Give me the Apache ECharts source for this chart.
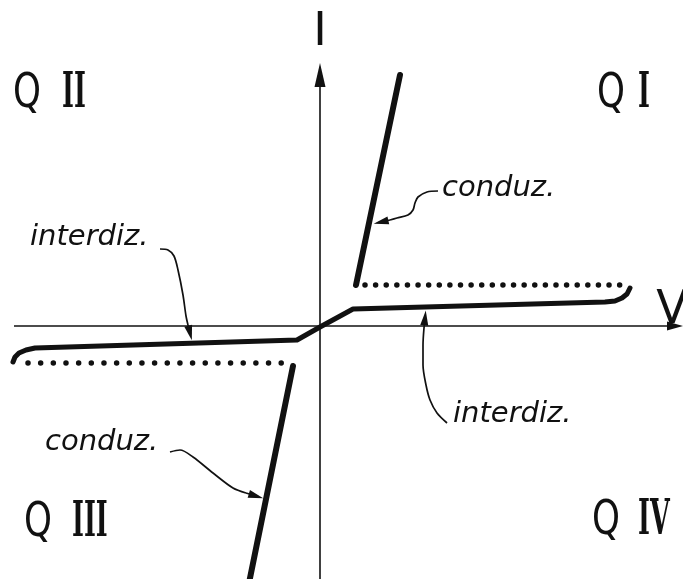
<!DOCTYPE html>
<html><head><meta charset="utf-8">
<script src="https://cdn.jsdelivr.net/npm/echarts@6/dist/echarts.min.js"></script>
<style>html,body{margin:0;padding:0;background:#fff}#c{width:683px;height:579px}</style>
</head><body><div id="c"></div>
<script>
// All values in diagram units: V to the right, I upward, origin at the axes crossing.
const vAxisLine = [[-306, 0], [355, 0]];
const iAxisLine = [[0, -253], [0, 251]];

// V-I characteristic (thick curve through the origin, with the curled ends)
const mainCurve = [[-307,-36],[-305,-31],[-301,-27],[-294,-24],[-285,-22],[-23,-14],[0,-1],[33,17],[285,24],[295,25],[302,28],[307,32],[310,38]];
const conductionQ1 = [[36, 41], [80, 251]];
const conductionQ3 = [[-27, -40], [-72, -262]];
const dottedQ1 = [[45, 41], [300, 41]];
const dottedQ3 = [[-292, -37], [-38, -37]];

// leader lines (curve + arrow head centre)
const leaderInterdizQ2 = [[-160,77],[-152,76],[-146,70],[-142,56],[-137,31],[-134,10],[-132,1]];
const tipInterdizQ2 = [-130, -7];
const leaderConduzQ1 = [[118,135],[107,134],[98,129],[95,123],[93,116],[88,111],[77,108],[70,106]];
const tipConduzQ1 = [61, 104];
const leaderInterdizQ4 = [[127,-97],[117,-87],[110,-74],[106,-59],[103,-39],[103,-19],[104,-2]];
const tipInterdizQ4 = [105, 8];
const leaderConduzQ3 = [[-150,-126],[-140,-124],[-127,-131],[-107,-147],[-87,-162],[-74,-167]];
const tipConduzQ3 = [-64, -170];

// texts
const axisLabelText = ['I', 'V'];
const axisLabelPos = [[0, 293], [352, 15]];
const quadLetterText = ['Q', 'Q', 'Q', 'Q'];
const quadLetterPos = [[-307, 231], [277, 231], [-296, -198], [272, -196]];
const quadNumText = ['II', 'I', 'III', 'IV'];
const quadNumPos = [[-258, 231], [318, 231], [-248, -198], [318, -196]];
const noteText = ['interdiz.', 'conduz.', 'interdiz.', 'conduz.'];
const notePos = [[-290, 89], [122, 138], [133, -88], [-275, -116]];

const INK = '#111';

function thick(data, w) {
  return { type: 'line', data, symbol: 'none', silent: true, animation: false,
    lineStyle: { width: w, color: INK, cap: 'round', join: 'round' } };
}
function dotted(data, gap) {
  return { type: 'line', data, symbol: 'none', silent: true, animation: false,
    lineStyle: { width: 5.5, color: INK, cap: 'round', type: [0.01, gap] } };
}
function leader(data, tip) {
  return { type: 'line', data, symbol: 'none', silent: true, animation: false, smooth: 0.3,
    lineStyle: { width: 1.7, color: INK },
    markLine: { silent: true, animation: false, symbol: ['none', 'triangle'], symbolSize: [8, 15],
      label: { show: false }, lineStyle: { type: 'solid', width: 1.7, color: INK },
      data: [[{ coord: data[data.length - 1] }, { coord: tip }]] } };
}
function axisSeries(data, size) {
  return { type: 'line', data: [], symbol: 'none', silent: true, animation: false,
    markLine: { silent: true, animation: false, symbol: ['none', 'triangle'], symbolSize: size,
      label: { show: false }, lineStyle: { type: 'solid', width: 1.6, color: INK },
      data: [[{ coord: data[0] }, { coord: data[1] }]] } };
}
function textSeries(pos, texts, font, scaleX) {
  return { type: 'custom', silent: true, animation: false,
    data: pos,
    renderItem: function (params, api) {
      const p = api.coord([api.value(0), api.value(1)]);
      return { type: 'text', x: p[0], y: p[1], scaleX: scaleX,
        style: { text: texts[params.dataIndex], font: font, fill: INK, align: 'left', verticalAlign: 'middle' } };
    } };
}
function centeredText(pos, texts, font) {
  return { type: 'custom', silent: true, animation: false,
    data: pos,
    renderItem: function (params, api) {
      const p = api.coord([api.value(0), api.value(1)]);
      return { type: 'text', x: p[0], y: p[1],
        style: { text: texts[params.dataIndex], font: font, fill: INK, align: 'center', verticalAlign: 'middle' } };
    } };
}

const chart = echarts.init(document.getElementById('c'), null, { renderer: 'canvas' });
chart.setOption({
  backgroundColor: '#fff',
  animation: false,
  grid: { left: 0, right: 0, top: 0, bottom: 0 },
  xAxis: { type: 'value', min: -320, max: 363, show: false },
  yAxis: { type: 'value', min: -253, max: 326, show: false },
  series: [
    axisSeries(vAxisLine, [9, 16]),
    axisSeries(iAxisLine, [11, 24]),
    thick(mainCurve, 5),
    thick(conductionQ1, 6),
    thick(conductionQ3, 6),
    dotted(dottedQ1, 10.6),
    dotted(dottedQ3, 12.65),
    leader(leaderInterdizQ2, tipInterdizQ2),
    leader(leaderConduzQ1, tipConduzQ1),
    leader(leaderInterdizQ4, tipInterdizQ4),
    leader(leaderConduzQ3, tipConduzQ3),
    centeredText(axisLabelPos, axisLabelText, '46px "DejaVu Sans"'),
    textSeries(quadLetterPos, quadLetterText, '48px "DejaVu Sans"', 0.74),
    textSeries(quadNumPos, quadNumText, 'bold 48px "DejaVu Serif"', 0.53),
    textSeries(notePos, noteText, 'italic 29px "DejaVu Sans"', 1)
  ]
});
</script>
</body></html>
